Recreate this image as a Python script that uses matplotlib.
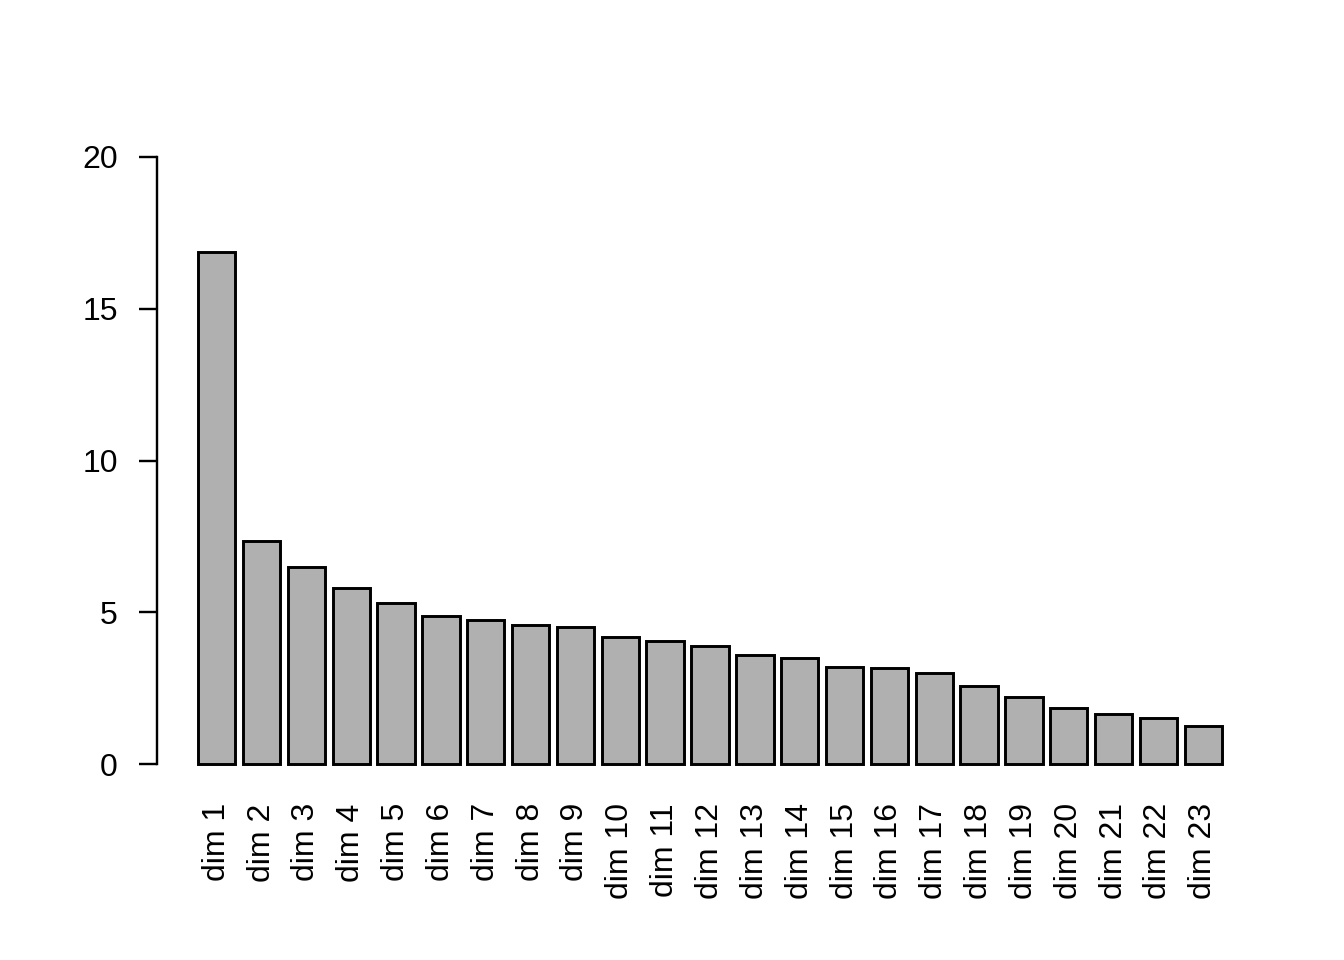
import matplotlib.pyplot as plt
import numpy as np

plt.rcParams["font.family"] = ["Liberation Sans", "DejaVu Sans"]

labels = [f"dim {i}" for i in range(1, 24)]
values = [16.87, 7.35, 6.49, 5.80, 5.30, 4.88, 4.74, 4.58, 4.51, 4.18,
          4.05, 3.89, 3.59, 3.49, 3.20, 3.16, 3.00, 2.57, 2.21, 1.85,
          1.65, 1.52, 1.25]
yticks = [0, 5, 10, 15, 20]

fig = plt.figure(figsize=(7, 5), dpi=192)
W, H = 1344, 960
# plot region in pixels (R-style 4% padding around bars / y range)
left, right = 157, 1263
top, bottom = 132.7, 788.3
ax = fig.add_axes([left / W, 1 - bottom / H, (right - left) / W, (bottom - top) / H])

# R barplot geometry: width 1, space 0.2
x = 0.7 + 1.2 * np.arange(len(values))
ax.bar(x, values, width=1.0, color="#b0b0b0", edgecolor="black", linewidth=1.1)

span = 27.4
ax.set_xlim(0.2 - 0.04 * span, 27.6 + 0.04 * span)
ax.set_ylim(-0.8, 20.8)

ax.set_xticks(x)
ax.set_xticklabels(labels, rotation=90, va="top", ha="center", fontsize=12)
ax.tick_params(axis="x", length=0, pad=5.6)

ax.set_yticks(yticks)
ax.set_yticklabels([str(v) for v in yticks], fontsize=12)
ax.tick_params(axis="y", length=6.75, width=0.9, pad=8)

for s in ("top", "right", "bottom"):
    ax.spines[s].set_visible(False)
ax.spines["left"].set_bounds(0, 20)
ax.spines["left"].set_linewidth(0.9)
ax.patch.set_visible(False)

fig.savefig("out.png", dpi=192)
